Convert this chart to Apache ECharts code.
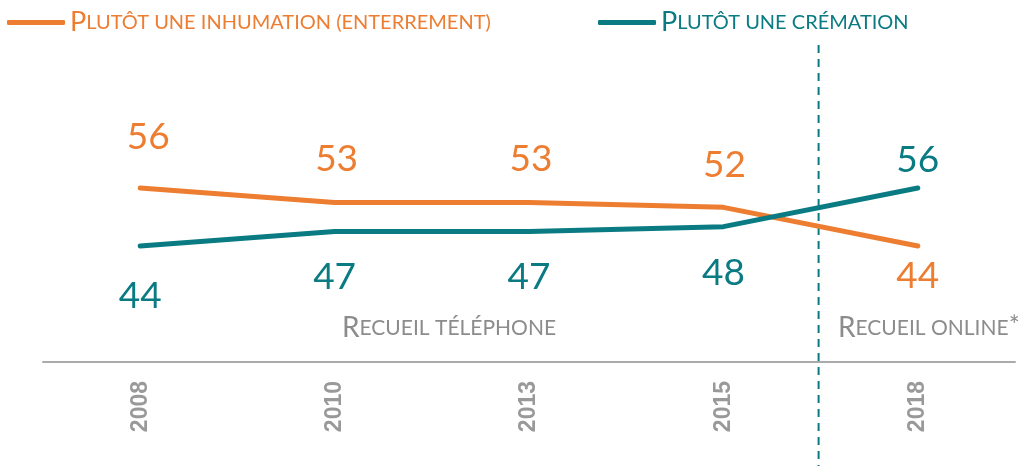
<!DOCTYPE html>
<html>
<head>
<meta charset="utf-8">
<script src="https://cdn.jsdelivr.net/npm/echarts@6/dist/echarts.min.js"></script>
<style>
  html, body { margin: 0; padding: 0; background: #fff; }
  #chart { width: 1029px; height: 466px; }
</style>
</head>
<body>
<div id="chart"></div>
<script>
// données
const categories = ['2008', '2010', '2013', '2015', '2018'];
const inhumation = [56, 53, 53, 52, 44];
const cremation = [44, 47, 47, 48, 56];

// décalage des étiquettes (x, y) par rapport au point
const inhumationLabelOffset = [[8, -51], [2, -43], [2, -43], [1, -42], [0, 30]];
const cremationLabelOffset = [[0, 50], [0, 46], [0, 46], [0, 46], [0, -28]];

const orange = '#ED7D31';
const teal = '#0A7B83';
const grey = '#8C8C8C';
const font = 'Lato';

const chart = echarts.init(document.getElementById('chart'));

function withLabels(values, offsets) {
  return values.map((v, i) => ({
    value: v,
    label: { offset: offsets[i] }
  }));
}

function smallCaps(text) {
  // première lettre en capitale, le reste en petites capitales
  return '{a|' + text.charAt(0).toUpperCase() + '}{b|' + text.slice(1).toUpperCase() + '}';
}

const legendBase = {
  top: 4,
  icon: 'roundRect',
  itemWidth: 58,
  itemHeight: 5,
  itemGap: 0,
  selectedMode: false,
  formatter: smallCaps
};

const option = {
  backgroundColor: '#fff',
  animation: false,
  legend: [
    Object.assign({}, legendBase, {
      left: 2,
      data: ['Plutôt une inhumation (enterrement)'],
      textStyle: {
        color: orange,
        rich: {
          a: { fontFamily: font, fontSize: 27, color: orange },
          b: { fontFamily: font, fontSize: 20, color: orange }
        }
      }
    }),
    Object.assign({}, legendBase, {
      left: 593,
      data: ['Plutôt une crémation'],
      textStyle: {
        color: teal,
        rich: {
          a: { fontFamily: font, fontSize: 27, color: teal },
          b: { fontFamily: font, fontSize: 20, color: teal }
        }
      }
    })
  ],
  grid: { left: 43, right: 14, top: 72, bottom: 104 },
  xAxis: {
    type: 'category',
    data: categories,
    boundaryGap: true,
    axisLine: { lineStyle: { color: '#AAAAAA', width: 2 } },
    axisTick: { show: false },
    axisLabel: {
      rotate: 90,
      margin: 19,
      color: '#999999',
      fontFamily: 'Liberation Sans',
      fontWeight: 'bold',
      fontSize: 23
    }
  },
  yAxis: {
    type: 'value',
    min: 20,
    max: 80,
    show: false
  },
  series: [
    {
      name: 'Plutôt une inhumation (enterrement)',
      type: 'line',
      data: withLabels(inhumation, inhumationLabelOffset),
      symbol: 'circle',
      symbolSize: 1,
      itemStyle: { color: orange },
      lineStyle: { color: orange, width: 5, cap: 'round' },
      label: {
        show: true,
        position: 'inside',
        color: orange,
        fontFamily: font,
        fontSize: 37
      }
    },
    {
      name: 'Plutôt une crémation',
      type: 'line',
      data: withLabels(cremation, cremationLabelOffset),
      symbol: 'circle',
      symbolSize: 1,
      itemStyle: { color: teal },
      lineStyle: { color: teal, width: 5, cap: 'round' },
      label: {
        show: true,
        position: 'inside',
        color: teal,
        fontFamily: font,
        fontSize: 37
      }
    }
  ]
};

chart.setOption(option);

// ligne de séparation entre 2015 et 2018 + mentions du mode de recueil
const x2015 = chart.convertToPixel({ xAxisIndex: 0 }, '2015');
const x2018 = chart.convertToPixel({ xAxisIndex: 0 }, '2018');
const xSplit = (x2015 + x2018) / 2 - 2;
const axisY = chart.convertToPixel({ yAxisIndex: 0 }, 20);

const recueilRich = {
  a: { fontFamily: font, fontSize: 28, fill: grey },
  b: { fontFamily: font, fontSize: 21, fill: grey },
  c: { fontFamily: font, fontSize: 26, fill: grey, verticalAlign: 'top' }
};

chart.setOption({
  graphic: [
    {
      type: 'line',
      shape: { x1: xSplit, y1: 45, x2: xSplit, y2: 466 },
      style: { stroke: teal, lineWidth: 2, lineDash: [8, 6] }
    },
    {
      type: 'text',
      x: 342,
      y: axisY - 34,
      style: {
        text: smallCaps('Recueil téléphone'),
        verticalAlign: 'middle',
        rich: recueilRich
      }
    },
    {
      type: 'text',
      x: 838,
      y: axisY - 34,
      style: {
        text: smallCaps('Recueil online') + '{c|*}',
        verticalAlign: 'middle',
        rich: recueilRich
      }
    }
  ]
});
</script>
</body>
</html>
